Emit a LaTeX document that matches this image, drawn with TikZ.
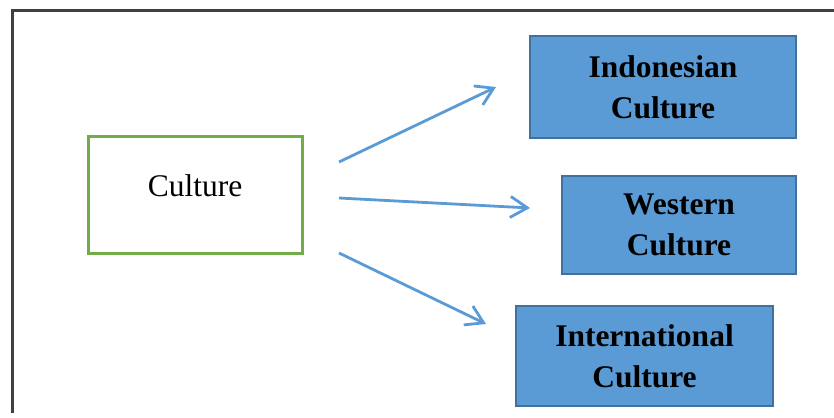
\documentclass[tikz,border=0pt]{standalone}
\usepackage{fontspec}
\setmainfont{Liberation Serif}
\usetikzlibrary{arrows.meta}
\definecolor{boxblue}{HTML}{5B9BD5}
\definecolor{boxedge}{HTML}{41719C}
\definecolor{boxgreen}{HTML}{70AD47}
\definecolor{framegray}{HTML}{404040}
\tikzset{
  bluebox/.style={draw=boxedge, fill=boxblue, line width=2.5pt, inner sep=0pt, align=center,
    font=\fontsize{31.5}{41}\selectfont\bfseries},
  greenbox/.style={draw=boxgreen, line width=3pt, inner sep=0pt,
    font=\fontsize{31.5}{41}\selectfont, text height=22pt, text depth=19pt},
  conn/.style={draw=boxblue, line width=2.8pt, -{Straight Barb[length=17pt,width=21pt,line width=2.8pt]}},
}
\begin{document}
\begin{tikzpicture}[x=1pt,y=-1pt]
\useasboundingbox (0,0) rectangle (834,417);
% frame
\draw[framegray, line width=2.5pt] (12.7,413) -- (12.7,10.3) -- (834,10.3);
% nodes
\node[greenbox, minimum width=214pt, minimum height=117pt] (culture) at (195,194.5) {Culture};
\node[bluebox, minimum width=266pt, minimum height=102pt] (indo) at (663,87) {Indonesian\\Culture};
\node[bluebox, minimum width=234pt, minimum height=98pt] (west) at (679,225) {Western\\Culture};
\node[bluebox, minimum width=257pt, minimum height=100pt] (intl) at (644.5,356) {International\\Culture};
% connector ends
\coordinate (a1s) at (339,162);
\coordinate (a1e) at (496,87);
\coordinate (a2s) at (339,198);
\coordinate (a2e) at (530,208);
\coordinate (a3s) at (339,253);
\coordinate (a3e) at (486,324);
\draw[conn] (a1s) -- (a1e);
\draw[conn] (a2s) -- (a2e);
\draw[conn] (a3s) -- (a3e);
\end{tikzpicture}
\end{document}
